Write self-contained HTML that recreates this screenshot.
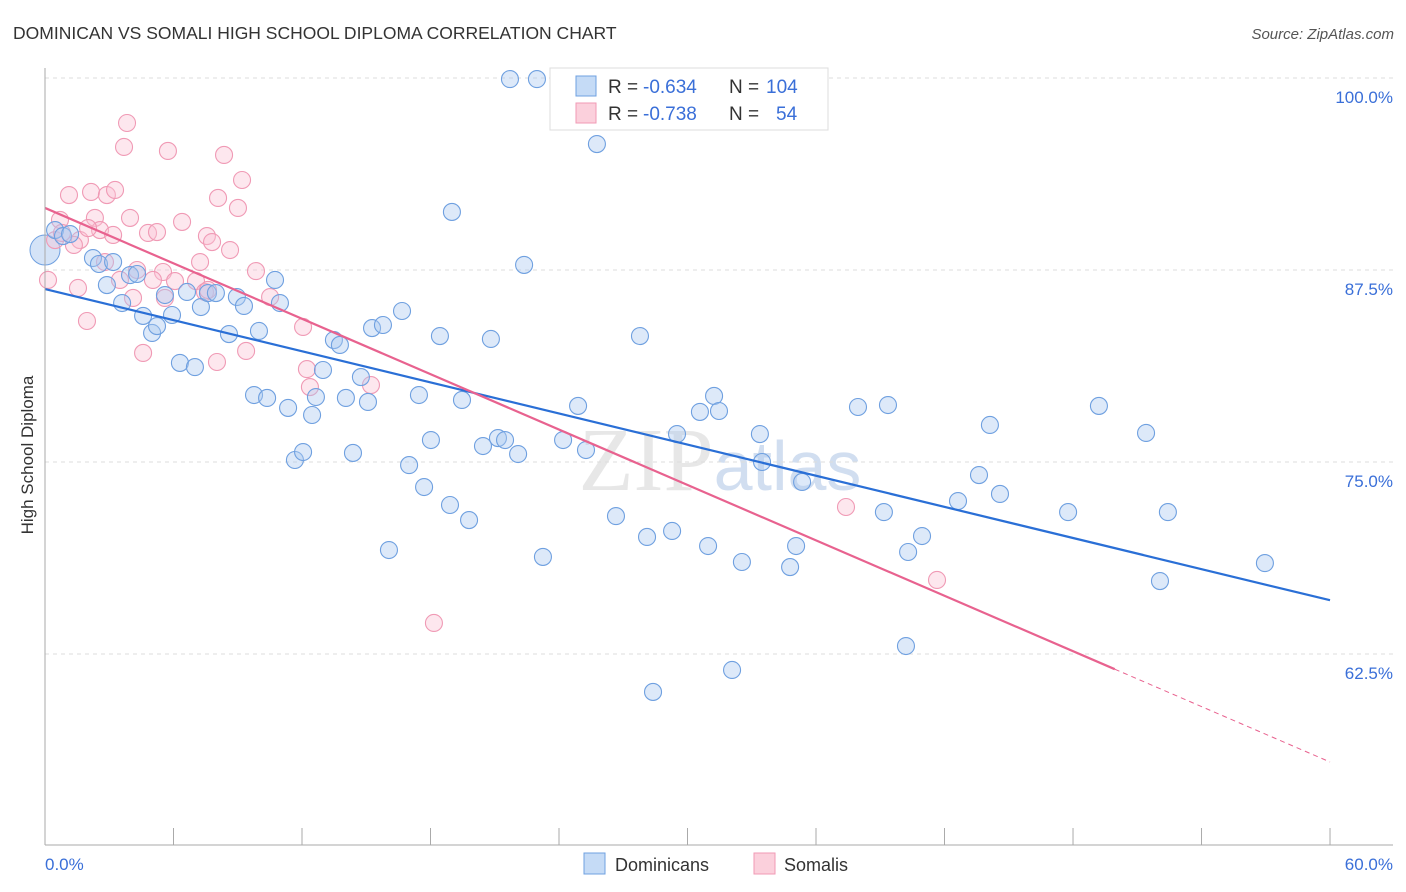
<!DOCTYPE html>
<html><head><meta charset="utf-8"><style>
body{margin:0;background:#fff;width:1406px;height:892px;overflow:hidden;font-family:"Liberation Sans",sans-serif}
svg{position:absolute;left:0;top:0}
</style></head><body>
<svg id="c" width="1406" height="892">
<text x="13" y="39" font-size="17.5" fill="#333">DOMINICAN VS SOMALI HIGH SCHOOL DIPLOMA CORRELATION CHART</text>
<text x="1394" y="39" font-size="15" fill="#555" font-style="italic" text-anchor="end">Source: ZipAtlas.com</text>
<text x="33" y="455" font-size="17" fill="#333" text-anchor="middle" transform="rotate(-90 33 455)">High School Diploma</text>
<text x="720" y="490" font-size="90" fill="#ccc" opacity="0.45" text-anchor="middle" font-family="Liberation Serif">ZIP<tspan fill="#9bb8e0" font-family="Liberation Sans" font-size="70">atlas</tspan></text>
<g id="grid"></g><g id="pts"></g><g id="lines"></g>
<line x1="45" y1="68" x2="45" y2="845" stroke="#aaa"/>
<line x1="45" y1="845" x2="1393" y2="845" stroke="#aaa"/>
<text x="45" y="870" font-size="17" fill="#3a6fd8">0.0%</text>
<text x="1393" y="870" font-size="17" fill="#3a6fd8" text-anchor="end">60.0%</text>
<g>
<rect x="550" y="68" width="278" height="62" fill="#fff" stroke="#ddd"/>
<rect x="576" y="76" width="20" height="20" fill="#c5dbf6" stroke="#6fa0e0"/>
<rect x="576" y="103" width="20" height="20" fill="#fbd0dc" stroke="#f09ab5"/>
<text y="93" font-size="19" fill="#333"><tspan x="608">R =</tspan><tspan x="643" fill="#3a6fd8">-0.634</tspan><tspan x="729">N =</tspan><tspan x="766" fill="#3a6fd8">104</tspan></text>
<text y="120" font-size="19" fill="#333"><tspan x="608">R =</tspan><tspan x="643" fill="#3a6fd8">-0.738</tspan><tspan x="729">N =</tspan><tspan x="776" fill="#3a6fd8">54</tspan></text>
</g>
<g>
<rect x="584" y="853" width="21" height="21" fill="#c5dbf6" stroke="#6fa0e0"/>
<text x="615" y="871" font-size="18" fill="#333">Dominicans</text>
<rect x="754" y="853" width="21" height="21" fill="#fbd0dc" stroke="#f09ab5"/>
<text x="784" y="871" font-size="18" fill="#333">Somalis</text>
</g>
</svg>
<script>
const yTicks=[100,87.5,75,62.5];
const xTickVals=[0,6,12,18,24,30,36,42,48,54,60];
const bluePx=[[510,79],[537,79],[597,144],[452,212],[524,265],[55,230],[63,236],[70,234],[93,258],[99,264],[113,262],[107,285],[122,303],[130,275],[137,274],[152,333],[157,326],[143,316],[165,295],[172,315],[180,363],[187,292],[195,367],[201,307],[208,293],[216,293],[229,334],[237,297],[244,306],[254,395],[259,331],[267,398],[275,280],[280,303],[288,408],[295,460],[303,452],[312,415],[316,397],[323,370],[334,340],[340,345],[346,398],[353,453],[361,377],[368,402],[372,328],[383,325],[389,550],[402,311],[409,465],[419,395],[424,487],[431,440],[440,336],[450,505],[462,400],[469,520],[483,446],[491,339],[498,438],[505,440],[518,454],[543,557],[563,440],[578,406],[586,450],[616,516],[640,336],[647,537],[653,692],[672,531],[677,434],[700,412],[708,546],[714,396],[719,411],[732,670],[742,562],[760,434],[762,462],[790,567],[796,546],[802,482],[858,407],[884,512],[888,405],[906,646],[908,552],[922,536],[958,501],[979,475],[990,425],[1000,494],[1068,512],[1099,406],[1146,433],[1160,581],[1168,512],[1265,563]];
const pinkPx=[[127,123],[124,147],[168,151],[224,155],[242,180],[69,195],[91,192],[107,195],[115,190],[218,198],[238,208],[182,222],[130,218],[95,218],[60,220],[100,230],[113,235],[148,233],[157,232],[207,236],[212,242],[230,250],[55,240],[80,240],[88,228],[74,245],[105,262],[200,262],[256,271],[137,270],[163,272],[153,280],[175,281],[196,281],[205,292],[270,297],[48,280],[78,288],[133,298],[165,298],[87,321],[303,327],[143,353],[217,362],[246,351],[307,369],[310,387],[371,385],[846,507],[937,580],[434,623],[120,280],[62,233],[208,290]];
const blueX=bluePx.map(p=>+((p[0]-45)/21.417).toFixed(2));
const blueY=bluePx.map(p=>+(100-(p[1]-78)/15.36).toFixed(2));
const pinkX=pinkPx.map(p=>+((p[0]-45)/21.417).toFixed(2));
const pinkY=pinkPx.map(p=>+(100-(p[1]-78)/15.36).toFixed(2));
const blueTrend=[86.26,66.0];
const pinkTrend=[91.54,55.47];
const pinkSolidEnd=49.95;
const sx=v=>45+v*21.417, sy=v=>78+(100-v)*15.36;
const NS='http://www.w3.org/2000/svg';
function mk(t,a,p){const e=document.createElementNS(NS,t);for(const k in a)e.setAttribute(k,a[k]);p.appendChild(e);return e;}
const grid=document.getElementById('grid');
yTicks.forEach(v=>{
 const l=mk('line',{x1:45,x2:1393,y1:sy(v),y2:sy(v),stroke:'#ddd','stroke-dasharray':'4,4'},grid);
 
 
 const t=mk('text',{x:1393,y:sy(v)+25,'font-size':17,fill:'#3a6fd8','text-anchor':'end'},grid);
 t.textContent=v.toFixed(1)+'%';
 
 
});
xTickVals.forEach(v=>{
 const l=mk('line',{x1:sx(v),x2:sx(v),y1:828,y2:845,stroke:'#aaa'},grid);
 
 
});
const pts=document.getElementById('pts');
const big=mk('circle',{cx:sx(0),cy:sy(88.8),r:15,fill:'rgba(170,200,240,0.5)',stroke:'#6fa0e0'},pts);


pinkX.forEach((x,i)=>{
 const c=mk('circle',{cx:sx(x),cy:sy(pinkY[i]),r:8.5,fill:'rgba(250,195,212,0.4)',stroke:'#f09ab5','stroke-width':1.1},pts);
 
 
});
blueX.forEach((x,i)=>{
 const c=mk('circle',{cx:sx(x),cy:sy(blueY[i]),r:8.5,fill:'rgba(170,200,240,0.4)',stroke:'#6fa0e0','stroke-width':1.1},pts);
 
 
});
const lines=document.getElementById('lines');
const bl=mk('line',{x1:sx(0),y1:sy(blueTrend[0]),x2:sx(60),y2:sy(blueTrend[1]),stroke:'#2a6fd6','stroke-width':2.2},lines);


const pe=pinkTrend[0]+(pinkTrend[1]-pinkTrend[0])*pinkSolidEnd/60;
const pl=mk('line',{x1:sx(0),y1:sy(pinkTrend[0]),x2:sx(pinkSolidEnd),y2:sy(pe),stroke:'#e8628f','stroke-width':2.2},lines);


const pd=mk('line',{x1:sx(pinkSolidEnd),y1:sy(pe),x2:sx(60),y2:sy(pinkTrend[1]),stroke:'#e8628f','stroke-width':1,'stroke-dasharray':'5,4'},lines);


</script>
</body></html>
